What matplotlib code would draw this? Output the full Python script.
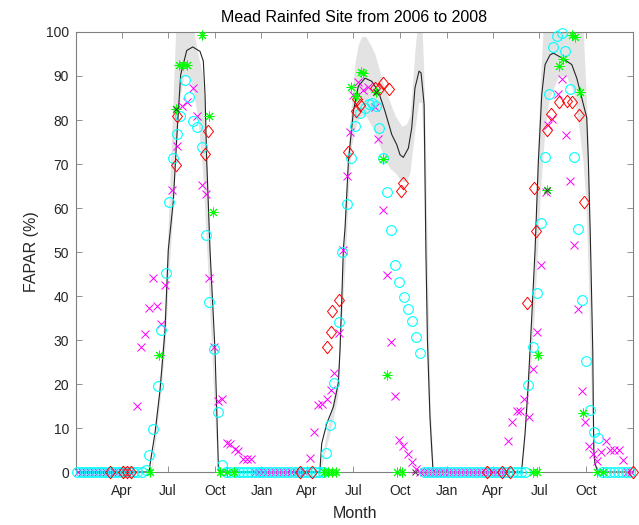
import matplotlib
matplotlib.use('Agg')
import matplotlib.pyplot as plt
import numpy as np

plt.rcParams['font.family'] = ['Liberation Sans', 'DejaVu Sans']

# x values: days since 2006-01-01
line_days = [0, 144, 146, 155.5, 165.3, 175.2, 181.6, 191.5, 199.4, 206, 217.9, 229.7, 244, 250.5, 253.9, 257.2,
             263.7, 273.5, 280, 282,
             478, 480, 483.5, 493.4, 506.4, 516.2, 519.5, 522.9, 526, 529.4, 536, 545.8, 555.6, 568.7, 581.9,
             595, 608, 621.3, 631.1, 637.6, 644.1, 654, 660.6, 667, 675, 679, 685, 688.5, 691.5, 696.5, 702, 704,
             875, 877, 883.6, 890, 896.8, 903.3, 909.8, 916.5, 923, 932.8, 939.4, 955.9, 975.5, 985.4, 995.2,
             1005, 1008.2, 1011.6, 1013, 1016.8, 1018.8, 1021, 1027, 1096]
line_vals = [0, 0, 2.0, 8.9, 18.6, 32.3, 50.5, 61.6, 78.2, 90.3, 95.8, 96.6, 95.6, 93.4, 85.8, 70.7,
             50.5, 27.7, 2.0, 0,
             0, 0.5, 6.5, 11, 14.8, 20.2, 27.7, 39, 50.5, 55.5, 70.6, 82, 87.7, 89.5, 88.8,
             86.5, 82, 76.7, 74.4, 72.1, 71.5, 73.6, 78.2, 87.3, 91.1, 90.7, 83.5, 50, 30, 12.5, 1.2, 0,
             0, 0.5, 8.8, 20.2, 35.3, 50.5, 70.6, 85.8, 92.6, 94.8, 95.2, 94.1, 92.6, 89.5, 85,
             80.5, 70.6, 55.5, 48.6, 27.7, 5, 2, 0, 0]

band_days = [0,
             148, 150, 165, 175, 182, 190, 196, 203, 212, 222, 232, 240, 248, 254, 260, 266, 275, 282,
             478, 480, 500, 515, 522, 530, 536, 542, 549, 555, 562, 570, 580, 588, 598, 608, 618, 628, 641,
             650, 657, 662, 667, 674, 680, 684, 687, 692, 697, 703, 705,
             876, 878, 890, 900, 908, 914, 919, 923, 930, 935, 950, 965, 980, 990, 998, 1003, 1008, 1012,
             1017, 1022, 1024,
             1096]
band_hi = [0,
           0, 3, 21, 38, 58, 82, 100, 110, 112, 108, 100, 95, 91, 82, 62, 42, 12, 0,
           0, 1, 13, 22, 42, 60, 74, 84, 93, 97, 99, 99, 97, 95, 91, 87, 84, 81, 78.6,
           79, 81, 88, 96, 104, 104, 92, 78, 45, 15, 1, 0,
           0, 1, 22, 42, 72, 90, 100, 106, 110, 112, 112, 110, 106, 104, 100, 88, 75, 45,
           15, 2, 0,
           0]
band_lo = [0,
           0, 1, 16, 28, 44, 58, 72, 84, 90, 90, 86, 80, 70, 58, 44, 30, 8, 0,
           0, 0, 9, 17, 33, 48, 64, 74, 78, 80, 81, 81, 79, 77, 74, 71, 69, 68, 66,
           66, 68, 73, 78, 84, 84, 72, 55, 20, 5, 0, 0,
           0, 0, 17, 32, 50, 64, 72, 78, 84, 86, 90, 90, 86, 78, 70, 62, 45, 25,
           8, 0, 0,
           0]

cyan_days = [1, 9, 17, 25, 33, 41, 49, 57, 65, 73, 81, 89, 97, 105, 113, 121, 129, 137,
             143.7, 150.9, 160.8, 167.3, 176.5, 183.6, 190.3, 198.8, 204.7, 214.5, 223, 231, 238.8, 247.3,
             255.2, 262.4, 271.6, 279.5, 288,
             296, 304, 312, 320, 328, 336, 344, 352, 360, 366, 374, 382, 390, 398, 406, 414, 422, 430, 438,
             446, 454, 462, 470, 478, 486,
             492, 499.9, 508.4, 517.6, 524.1, 532.7, 541.2, 549, 558.9, 568.8, 576.6, 583, 590.4, 596.3,
             604.8, 612.7, 620, 628.4, 636.3, 645, 652.8, 661.2, 669, 677,
             685, 693, 701, 709, 717, 725, 731, 739, 747, 755, 763, 771, 779, 787, 795, 803, 811, 819, 827,
             835, 843, 851, 859, 867, 875, 883,
             890.1, 900, 906.7, 915.1, 923, 930.9, 939.4, 946, 955.9, 962.4, 972.2, 980, 988.5, 996.4, 1003,
             1011.6, 1018.8, 1026.7,
             1035, 1043, 1051, 1059, 1067, 1075, 1083, 1091]
cyan_vals = [0, 0, 0, 0, 0, 0, 0, 0, 0, 0, 0, 0, 0, 0, 0, 0, 0, 0.5,
             3.9, 9.8, 19.5, 32.3, 45.3, 61.3, 71.4, 76.8, 81.0, 89.0, 85.2, 79.8, 78.4, 73.9,
             53.8, 38.6, 28.0, 13.7, 1.6,
             0, 0, 0, 0, 0, 0, 0, 0, 0, 0, 0, 0, 0, 0, 0, 0, 0, 0, 0,
             0, 0, 0, 0, 0, 0,
             4.4, 10.7, 20.3, 34.2, 50.0, 61.0, 71.4, 78.6, 81.6, 82.7, 83.6, 83.9, 83.1, 78.2,
             71.4, 63.6, 55.1, 47.1, 43.1, 39.8, 37.0, 34.3, 30.7, 27.0,
             0, 0, 0, 0, 0, 0, 0, 0, 0, 0, 0, 0, 0, 0, 0, 0, 0, 0, 0,
             0, 0, 0, 0, 0, 0, 0,
             19.8, 28.3, 40.6, 56.7, 71.6, 85.9, 96.5, 99.2, 99.8, 95.6, 87.0, 71.6, 55.2, 39.2, 25.3,
             14.1, 9.0, 7.7,
             0, 0, 0, 0, 0, 0, 0, 0]

magenta_days = [3, 11, 19, 27, 35, 43, 51, 59, 67, 75, 83, 91, 99, 107,
                119.4, 127.9, 135.2, 143.7, 150.9, 160, 167.3, 175.2, 188, 198, 208, 218, 230, 237.5, 247, 256,
                262.4, 271.6, 280, 286.7, 296.6, 303, 312.9, 319.5, 329.3, 336, 344,
                352, 360, 368, 376, 384, 392, 400, 408, 416, 424, 432, 440, 448,
                460.5, 468.4, 475.7, 483.5, 493.4, 501.2, 508.4, 518.2, 526, 532.7, 539.5, 546, 555.6, 565.4,
                575, 588.4, 595, 604.8, 612.7, 620, 628.4, 636.3, 644.1, 652.8, 660.6, 669,
                677, 685, 693, 701, 709, 717, 725, 733, 741, 749, 757, 765, 773, 781, 789, 797, 805, 813, 821,
                829, 837, 845,
                850.8, 858.7, 868.5, 873.8, 882.3, 891.5, 898.8, 906.7, 915.1, 924.4, 929.5, 936.2, 948, 955.9,
                963.8, 972.2, 980, 987.3, 996.4, 1001.7, 1010.2, 1018, 1024.8, 1033.2, 1043, 1051, 1059.5,
                1068.6, 1076, 1084, 1092]
magenta_vals = [0, 0, 0, 0, 0, 0, 0, 0, 0, 0, 0, 0, 0, 0,
                15.1, 28.5, 31.3, 37.3, 44.2, 37.8, 33.6, 42.5, 64.0, 74.0, 83.2, 84.2, 87.2, 80.8, 65.2, 63.2,
                44.2, 28.3, 16.2, 16.6, 6.5, 6.4, 5.2, 4.8, 2.9, 2.9, 2.9,
                0, 0, 0, 0, 0, 0, 0, 0, 0, 0, 0, 0, 0,
                3.1, 9.0, 15.2, 15.4, 16.7, 18.6, 22.6, 31.5, 50.5, 67.2, 77.2, 85.7, 88.7, 86.8,
                87.6, 82.9, 75.6, 59.5, 44.8, 29.6, 17.3, 7.3, 5.8, 4.1, 2.3, 0.7,
                0, 0, 0, 0, 0, 0, 0, 0, 0, 0, 0, 0, 0, 0, 0, 0, 0, 0, 0,
                0, 0, 0,
                7.1, 11.3, 13.9, 13.9, 16.7, 12.4, 23.4, 31.9, 47.0, 63.6, 78.9, 80.2, 85.9, 89.3,
                76.7, 66.1, 51.5, 37.0, 18.3, 11.4, 5.8, 4.2, 2.6, 4.6, 7.1, 5.0, 5.0,
                5.0, 2.7, 0, 0]

red_days = [67, 93, 101, 109, 196.8, 198.2, 253.9, 260.4,
            441, 464, 494.5, 501.2, 503.2, 518.2, 536, 550.4, 552.4, 559, 588.4, 596.3, 604.8, 616, 639, 644.1,
            808, 838, 854, 888.2, 902, 904.5, 926.4, 934.8, 950, 966, 975, 990.5, 1000.3, 1096]
red_vals = [0, 0, 0, 0, 69.8, 80.8, 72.3, 77.4,
            0, 0, 28.3, 31.8, 36.6, 39.1, 72.7, 82.0, 84.8, 83.5, 87.2, 87.0, 88.5, 87.1, 63.8, 65.7,
            0, 0, 0, 38.5, 64.6, 54.7, 77.8, 81.4, 84.2, 84.3, 84.1, 81.1, 61.4, 0]

green_days = [146, 164, 196.8, 203, 211, 219, 248.6, 261.8, 269, 283, 297, 310,
              488, 496, 504, 512, 541.2, 551, 560.2, 565.4, 590.4, 604.8, 612.7, 631, 641,
              900, 907, 909.8, 926.4, 950.5, 959, 976.8, 982, 991.9, 998.4, 1025, 1037]
green_vals = [0, 26.6, 82.5, 92.6, 92.6, 92.6, 99.4, 80.8, 59.0, 0, 0, 0,
              0, 0, 0, 0, 87.4, 85.4, 90.8, 90.7, 86.3, 71.1, 22.0, 0, 0,
              0, 0, 26.6, 64.0, 92.3, 93.9, 99.4, 98.8, 86.4, 13.3, 0, 0]

gray_days = [196.8, 590.4, 926.4, 667]
gray_vals = [82.5, 86.3, 64.0, 0]

tick_days = [90, 181, 273, 365, 455, 546, 638, 730, 821, 912, 1004]
tick_labels = ['Apr', 'Jul', 'Oct', 'Jan', 'Apr', 'Jul', 'Oct', 'Jan', 'Apr', 'Jul', 'Oct']
y_ticks = [0, 10, 20, 30, 40, 50, 60, 70, 80, 90, 100]

diamond = [(0, 1), (0.8, 0), (0, -1), (-0.8, 0), (0, 1)]

fig = plt.figure(figsize=(6.39, 5.25), dpi=100)
ax = fig.add_axes([76 / 639, 53 / 525, 557 / 639, 440 / 525])

ax.fill_between(band_days, band_lo, band_hi, color='#e3e3e3', linewidth=0, zorder=1)
ax.plot(line_days, line_vals, color='#262626', linewidth=0.8, zorder=2)

ax.plot(magenta_days, magenta_vals, linestyle='none', marker='x', color='#ff00ff',
        markersize=5.5, markeredgewidth=0.7, zorder=3, clip_on=False)
ax.plot(cyan_days, cyan_vals, linestyle='none', marker='o', markerfacecolor='none',
        markeredgecolor='#00ffff', markersize=7, markeredgewidth=0.8, zorder=4, clip_on=False)
ax.plot(red_days, red_vals, linestyle='none', marker=diamond, markerfacecolor='none',
        markeredgecolor='#ff0000', markersize=9, markeredgewidth=0.7, zorder=5, clip_on=False)
ax.plot(green_days, green_vals, linestyle='none', marker=(8, 2, 0), color='#00ff00',
        markersize=7, markeredgewidth=0.7, zorder=6, clip_on=False)
ax.plot(gray_days, gray_vals, linestyle='none', marker='x', color='#404040',
        markersize=4.5, markeredgewidth=0.7, zorder=7, clip_on=False)

ax.set_xlim(0, 1096)
ax.set_ylim(0, 100)
ax.set_xticks(tick_days)
ax.set_xticklabels(tick_labels)
ax.set_yticks(y_ticks)

axis_col = '#262626'
for s in ax.spines.values():
    s.set_color('#808080')
    s.set_linewidth(0.8)
ax.tick_params(direction='in', top=True, right=True, length=4, width=0.6,
               colors='#808080', labelcolor=axis_col, labelsize=10)
ax.tick_params(axis='x', pad=8.5)
ax.tick_params(axis='y', pad=5)

ax.set_title('Mead Rainfed Site from 2006 to 2008', fontsize=11.5, color='black', pad=7)
ax.set_xlabel('Month', fontsize=11.5, color=axis_col, labelpad=6)
ax.set_ylabel('FAPAR (%)', fontsize=11.5, color=axis_col, labelpad=5)

fig.savefig('out.png', dpi=100)
